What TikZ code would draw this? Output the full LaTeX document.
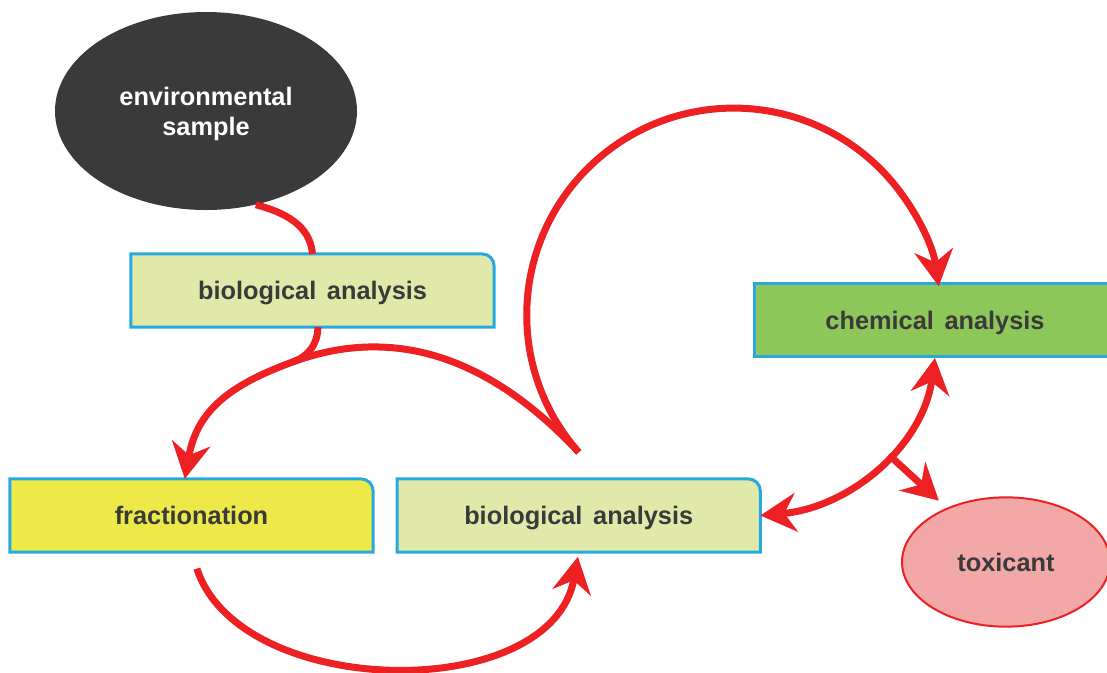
\documentclass[tikz,border=0pt]{standalone}
\usepackage{fontspec}
\setmainfont{Liberation Sans}
\usetikzlibrary{positioning,arrows.meta,shapes.geometric,backgrounds}
\definecolor{myred}{RGB}{237,32,36}
\definecolor{myblue}{RGB}{38,169,224}
\definecolor{mygrey}{RGB}{58,58,58}
\definecolor{biogreen}{RGB}{224,232,170}
\definecolor{chemgreen}{RGB}{141,199,90}
\definecolor{fracyellow}{RGB}{236,233,72}
\definecolor{toxpink}{RGB}{242,168,166}
\tikzset{
	mynode/.style={draw=none,text centered,inner sep=0pt,minimum width=272pt,minimum height=54.5pt,text depth=0pt,text=mygrey,font=\fontsize{19}{22.5}\selectfont\bfseries},
	myellipse/.style={ellipse,align=center,inner sep=0pt,text depth=0pt,font=\fontsize{19}{22.5}\selectfont\bfseries},
	mytab/.style={fill=#1,draw=myblue,line width=2.25pt},
	myline/.style={myred,line width=5.25pt},
	myarrow1/.style={myline,-{Stealth[length=27pt,width=29pt,inset=9pt]}},
	myarrow2/.style={myline,{Stealth[length=27pt,width=29pt,inset=9pt]}-{Stealth[length=27pt,width=29pt,inset=9pt]}}
}
\begin{document}
\begin{tikzpicture}[x=0.75pt,y=0.75pt]
		\useasboundingbox (0,0) rectangle (1107,-672);
		\node[myellipse,fill=mygrey,text=white,minimum width=226.5pt,minimum height=148.5pt](env) at (206,-111){environmental\\sample};
		\node[mynode](bioA) at (312.5,-290.5){biological\hspace{8pt}analysis};
		\node[mynode](frac) at (191.5,-515.5){fractionation};
		\node[right = 18pt of frac,mynode](bioB){biological\hspace{8pt}analysis};
		\node[mynode,fill=chemgreen,draw=myblue,line width=2.25pt,minimum width=271.5pt](chem) at (935,-320){chemical\hspace{8pt}analysis};
		\node[myellipse,fill=toxpink,draw=myred,line width=1.5pt,text=mygrey,minimum width=156pt,minimum height=97pt](tox) at (1006,-562){toxicant};
		\begin{scope}[on background layer]
			\foreach \n/\c in {bioA/biogreen,frac/fracyellow,bioB/biogreen}
				\draw[mytab=\c] (\n.south west) -- (\n.north west) -- ([xshift=-9pt]\n.north east) arc[start angle=90,end angle=0,radius=9pt] -- (\n.south east) -- cycle;
		\end{scope}
		\coordinate (split) at ([yshift=20pt]bioB.north);
		\coordinate (join) at ([shift={(-14.5pt,-26pt)}]bioA.south);
		\draw[myline] (env.-62) to[out=-15,in=95] (bioA.north);
		\draw[myarrow1] (split) to[out=133,in=20] (join) to[out=200,in=80,looseness=1.1] ([xshift=-5pt]frac.north);
		\draw[myline] ([xshift=4pt]bioA.south) to[out=-90,in=20] (join);
		\draw[myarrow1] (split) arc[start angle=221.5,end angle=8,radius=207];
		\draw[myarrow1,shorten <=13pt,shorten >=3.5pt] (frac.south) to[out=-72,in=-100,looseness=1.03] (bioB.south);
		\draw[myarrow2] (bioB.east) to[out=5,in=-98,looseness=0.97] coordinate[pos=0.57] (fork) (chem.south);
		\draw[myarrow1,shorten >=8pt] (fork) -- (tox);
\end{tikzpicture}
\end{document}
